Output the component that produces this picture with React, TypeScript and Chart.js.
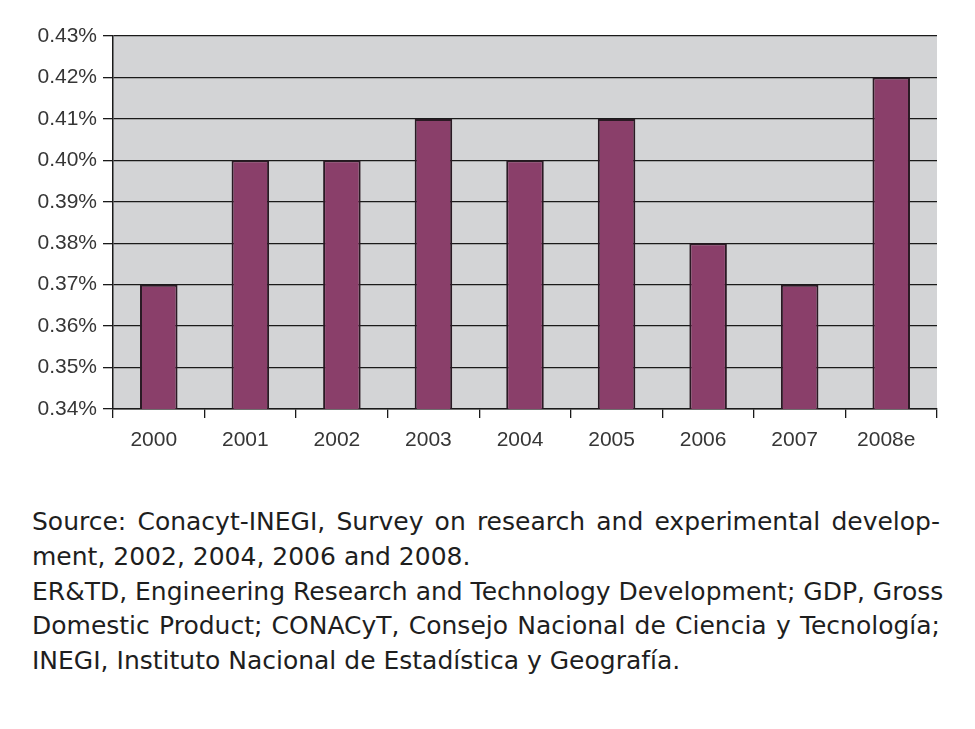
import React, { useEffect, useRef } from "react";
import { Chart, registerables } from "chart.js";

Chart.register(...registerables);

const categories = ["2000", "2001", "2002", "2003", "2004", "2005", "2006", "2007", "2008e"];
const values = [0.37, 0.4, 0.4, 0.41, 0.4, 0.41, 0.38, 0.37, 0.42];
const yMin = 0.34;
const yMax = 0.43;
const yStep = 0.01;

const noteLines: { text: string; last: boolean }[] = [
  { text: "Source: Conacyt-INEGI, Survey on research and experimental develop-", last: false },
  { text: "ment, 2002, 2004, 2006 and 2008.", last: true },
  { text: "ER&TD, Engineering Research and Technology Development; GDP, Gross", last: false },
  { text: "Domestic Product; CONACyT, Consejo Nacional de Ciencia y Tecnología;", last: false },
  { text: "INEGI, Instituto Nacional de Estadística y Geografía.", last: true },
];

const plotBg = {
  id: "plotBg",
  beforeDraw(chart: any) {
    const { ctx, chartArea } = chart;
    ctx.save();
    ctx.fillStyle = "#d3d4d6";
    ctx.fillRect(chartArea.left, chartArea.top, chartArea.right - chartArea.left, chartArea.bottom - chartArea.top);
    ctx.restore();
  },
};

export default function App() {
  const ref = useRef<HTMLCanvasElement | null>(null);

  useEffect(() => {
    if (!ref.current) return;
    const tickFont = { family: "'Liberation Sans', Arial, sans-serif", size: 21 };
    const chart = new Chart(ref.current, {
      type: "bar",
      data: {
        labels: categories,
        datasets: [
          {
            data: values,
            backgroundColor: "#8a3f6a",
            borderColor: "#2a1a24",
            borderWidth: 2,
            borderSkipped: false,
            categoryPercentage: 1,
            barPercentage: 0.41,
          },
        ],
      },
      options: {
        animation: false,
        responsive: false,
        maintainAspectRatio: false,
        devicePixelRatio: 1,
        layout: { padding: { left: 0, right: 38, top: 36, bottom: 0 } },
        plugins: { legend: { display: false }, tooltip: { enabled: false }, title: { display: false } },
        scales: {
          x: {
            afterFit: (s: any) => {
              s.height = 61;
            },
            grid: {
              drawOnChartArea: false,
              drawTicks: true,
              tickLength: 9,
              offset: true,
              color: "#1a1a1a",
              lineWidth: 1.3,
            },
            border: { display: true, color: "#1a1a1a", width: 1.5 },
            ticks: { font: tickFont, color: "#363636", padding: 10, labelOffset: -5, maxRotation: 0, autoSkip: false },
          },
          y: {
            min: yMin,
            max: yMax,
            afterFit: (s: any) => {
              s.width = 113;
            },
            grid: { color: "#1a1a1a", lineWidth: 1.3, tickLength: 10, drawTicks: true },
            border: { display: true, color: "#1a1a1a", width: 1.5 },
            ticks: {
              stepSize: yStep,
              font: tickFont,
              color: "#363636",
              padding: 6,
              callback: (v: any) => Number(v).toFixed(2) + "%",
            },
          },
        },
      },
      plugins: [plotBg],
    });
    return () => chart.destroy();
  }, []);

  return (
    <div style={{ position: "absolute", left: 0, top: 0, width: 975, height: 729, background: "#ffffff", overflow: "hidden" }}>
      <canvas ref={ref} width={975} height={470} style={{ position: "absolute", left: 0, top: 0, width: 975, height: 470 }} />
      <div
        style={{
          position: "absolute",
          left: 32,
          top: 505,
          width: 908,
          fontFamily: "'DejaVu Sans', sans-serif",
          fontSize: 25,
          lineHeight: "34.75px",
          color: "#1e1e1e",
        }}
      >
        {noteLines.map((l, i) => (
          <div
            key={i}
            style={{
              textAlign: l.last ? "left" : "justify",
              textAlignLast: l.last ? "left" : "justify",
              whiteSpace: "nowrap",
            }}
          >
            {l.text}
          </div>
        ))}
      </div>
    </div>
  );
}
